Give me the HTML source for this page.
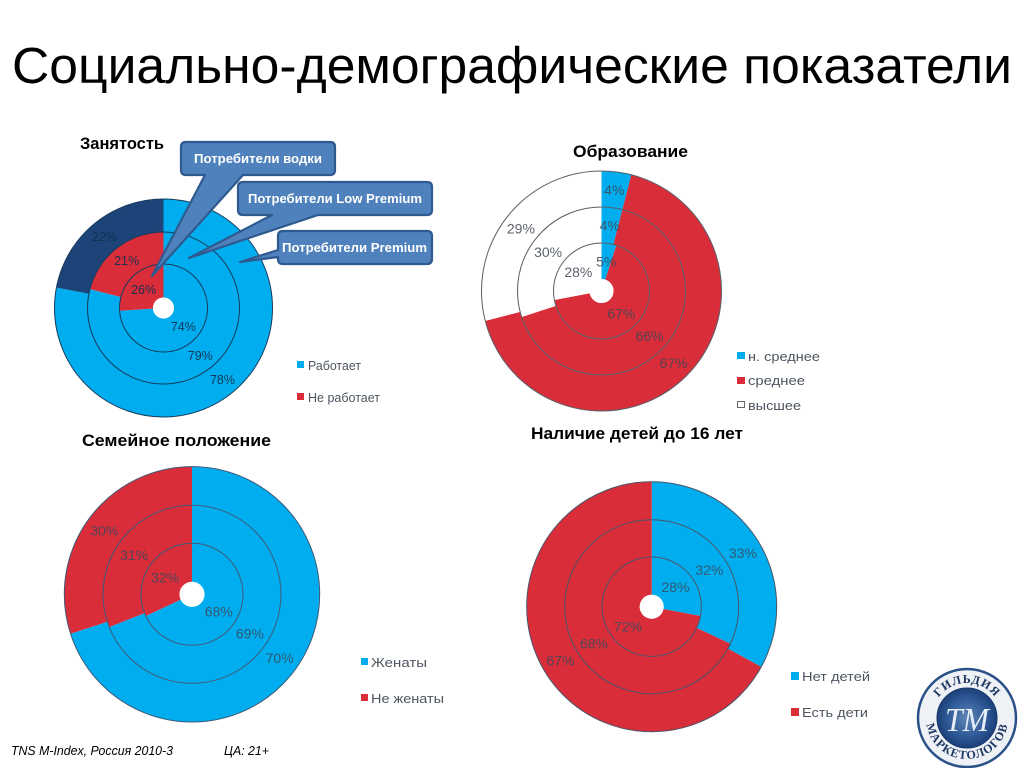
<!DOCTYPE html>
<html lang="ru">
<head>
<meta charset="utf-8">
<title>Социально-демографические показатели</title>
<style>
html,body{margin:0;padding:0;background:#fff;width:1024px;height:768px;overflow:hidden}
svg{display:block}
text{font-family:"Liberation Sans","Noto Sans CJK JP",sans-serif}
.ttl{font-weight:bold;font-size:16.5px;fill:#000}
.leg{font-size:13px;fill:#4d5560}
.call{font-weight:bold;font-size:12.5px;fill:#fff}
.foot{font-style:italic;font-size:13px;fill:#000}
.box{fill:#4f81bd;stroke:#2f5a8f;stroke-width:2.2;stroke-linejoin:round}
</style>
</head>
<body>
<svg id="slide" width="1024" height="768" viewBox="0 0 1024 768" xmlns="http://www.w3.org/2000/svg">
  <rect width="1024" height="768" fill="#fff"/>
  <text x="12" y="83" font-size="51" fill="#000" textLength="1000" lengthAdjust="spacingAndGlyphs">Социально-демографические показатели</text>

  <text class="ttl" x="80" y="149" textLength="84" lengthAdjust="spacingAndGlyphs">Занятость</text>
  <text class="ttl" x="573" y="157" textLength="115" lengthAdjust="spacingAndGlyphs">Образование</text>
  <text class="ttl" x="82" y="446" textLength="189" lengthAdjust="spacingAndGlyphs">Семейное положение</text>
  <text class="ttl" x="531" y="439" textLength="212" lengthAdjust="spacingAndGlyphs">Наличие детей до 16 лет</text>

  <g id="charts"></g>

  <g>
    <rect x="297" y="361" width="7" height="7" fill="#00aeef"/>
    <text class="leg" x="308" y="370" textLength="53" lengthAdjust="spacingAndGlyphs">Работает</text>
    <rect x="297" y="393" width="7" height="7" fill="#d92d3a"/>
    <text class="leg" x="308" y="402" textLength="72" lengthAdjust="spacingAndGlyphs">Не работает</text>
  </g>
  <g>
    <rect x="737" y="352" width="8" height="7" fill="#00aeef"/>
    <text class="leg" x="748" y="361" textLength="72" lengthAdjust="spacingAndGlyphs">н. среднее</text>
    <rect x="737" y="377" width="8" height="7" fill="#d92d3a"/>
    <text class="leg" x="748" y="385" textLength="57" lengthAdjust="spacingAndGlyphs">среднее</text>
    <rect x="737.5" y="401.5" width="7" height="6" fill="#fff" stroke="#666" stroke-width="1"/>
    <text class="leg" x="748" y="410" textLength="53" lengthAdjust="spacingAndGlyphs">высшее</text>
  </g>
  <g>
    <rect x="361" y="658" width="7" height="7" fill="#00aeef"/>
    <text class="leg" x="371" y="667" textLength="56" lengthAdjust="spacingAndGlyphs">Женаты</text>
    <rect x="361" y="694" width="7" height="7" fill="#d92d3a"/>
    <text class="leg" x="371" y="703" textLength="73" lengthAdjust="spacingAndGlyphs">Не женаты</text>
  </g>
  <g>
    <rect x="791" y="672" width="8" height="8" fill="#00aeef"/>
    <text class="leg" x="802" y="681" textLength="68" lengthAdjust="spacingAndGlyphs">Нет детей</text>
    <rect x="791" y="708" width="8" height="8" fill="#d92d3a"/>
    <text class="leg" x="802" y="717" textLength="66" lengthAdjust="spacingAndGlyphs">Есть дети</text>
  </g>

  <g>
    <path class="box" d="M186 142H330Q335 142 335 147V170Q335 175 330 175H243L152 276L205 175H186Q181 175 181 170V147Q181 142 186 142Z"/>
    <text class="call" x="194" y="163" textLength="128" lengthAdjust="spacingAndGlyphs">Потребители водки</text>
  </g>
  <g>
    <path class="box" d="M243 182H427Q432 182 432 187V210Q432 215 427 215H318L189 258L272 215H243Q238 215 238 210V187Q238 182 243 182Z"/>
    <text class="call" x="248" y="203" textLength="174" lengthAdjust="spacingAndGlyphs">Потребители Low Premium</text>
  </g>
  <g>
    <path class="box" d="M283 231H427Q432 231 432 236V259Q432 264 427 264H283Q278 264 278 259V257L240 262L278 250V236Q278 231 283 231Z"/>
    <text class="call" x="282" y="252" textLength="145" lengthAdjust="spacingAndGlyphs">Потребители Premium</text>
  </g>

  <text class="foot" x="11" y="755" textLength="162" lengthAdjust="spacingAndGlyphs">TNS M-Index, Россия 2010-3</text>
  <text class="foot" x="224" y="755" textLength="45" lengthAdjust="spacingAndGlyphs">ЦА: 21+</text>

  <g>
    <defs>
      <radialGradient id="logoGrad" cx="50%" cy="50%" r="55%">
        <stop offset="0%" stop-color="#5f86b8"/>
        <stop offset="60%" stop-color="#2d5896"/>
        <stop offset="100%" stop-color="#17386f"/>
      </radialGradient>
      <path id="logoTopArc" d="M932 718A35 35 0 0 1 1002 718"/>
      <path id="logoBottomArc" d="M926 718A41 41 0 0 0 1008 718"/>
    </defs>
    <circle cx="967" cy="718" r="49" fill="#eef1f5" stroke="#2b5288" stroke-width="2.5"/>
    <circle cx="967" cy="718" r="30" fill="url(#logoGrad)" stroke="#17386f" stroke-width="1"/>
    <text font-size="12" font-weight="bold" fill="#1d3763" letter-spacing="1" style="font-family:'Liberation Serif',serif"><textPath href="#logoTopArc" startOffset="50%" text-anchor="middle">ГИЛЬДИЯ</textPath></text>
    <text font-size="12" font-weight="bold" fill="#1d3763" letter-spacing="1" style="font-family:'Liberation Serif',serif"><textPath href="#logoBottomArc" startOffset="50%" text-anchor="middle">МАРКЕТОЛОГОВ</textPath></text>
    <text x="945" y="731" font-size="34" font-style="italic" fill="#e8eef6" textLength="44" lengthAdjust="spacingAndGlyphs" style="font-family:'Liberation Serif',serif">ТМ</text>
  </g>
</svg>
<script>
var employmentInner = [74, 26];
var employmentMiddle = [79, 21];
var employmentOuter = [78, 22];
var educationInner = [5, 67, 28];
var educationMiddle = [4, 66, 30];
var educationOuter = [4, 67, 29];
var familyInner = [68, 32];
var familyMiddle = [69, 31];
var familyOuter = [70, 30];
var childrenInner = [28, 72];
var childrenMiddle = [32, 68];
var childrenOuter = [33, 67];

var NS = 'http://www.w3.org/2000/svg';
var host = document.getElementById('charts');

function angleScale(values) {
  var total = values.reduce(function (a, b) { return a + b; }, 0);
  return function (v) { return v / total * Math.PI * 2; };
}
function polar(cx, cy, r, a) {
  return [cx + r * Math.sin(a), cy - r * Math.cos(a)];
}
function ringPath(cx, cy, r0, r1, a0, a1) {
  var large = a1 - a0 > Math.PI ? 1 : 0;
  var p0 = polar(cx, cy, r1, a0), p1 = polar(cx, cy, r1, a1);
  var p2 = polar(cx, cy, r0, a1), p3 = polar(cx, cy, r0, a0);
  return 'M' + p0[0] + ' ' + p0[1] + 'A' + r1 + ' ' + r1 + ' 0 ' + large + ' 1 ' + p1[0] + ' ' + p1[1] +
    'L' + p2[0] + ' ' + p2[1] + 'A' + r0 + ' ' + r0 + ' 0 ' + large + ' 0 ' + p3[0] + ' ' + p3[1] + 'Z';
}
function drawRing(group, labels, opt, values, r0, r1, colors, ringName) {
  var scale = angleScale(values);
  var start = 0;
  values.forEach(function (v, i) {
    var end = start + scale(v);
    var slice = document.createElementNS(NS, 'path');
    
    
    slice.setAttribute('d', ringPath(opt.cx, opt.cy, r0, r1, start, end));
    slice.setAttribute('fill', colors[i]);
    group.appendChild(slice);
    var p = polar(opt.cx, opt.cy, (r0 + r1) / 2, (start + end) / 2);
    var t = document.createElementNS(NS, 'text');
    
    
    t.setAttribute('x', p[0]);
    t.setAttribute('y', p[1] + opt.font * 0.36);
    t.setAttribute('text-anchor', 'middle');
    t.setAttribute('font-size', opt.font);
    t.setAttribute('fill', opt.labelColor);
    t.setAttribute('fill-opacity', opt.labelOpacity);
    t.textContent = v + '%';
    labels.push(t);
    start = end;
  });
}
function drawOutline(group, opt, radius) {
  var c = document.createElementNS(NS, 'circle');
  
  
  c.setAttribute('cx', opt.cx);
  c.setAttribute('cy', opt.cy);
  c.setAttribute('r', radius);
  c.setAttribute('fill', 'none');
  c.setAttribute('stroke', opt.stroke);
  c.setAttribute('stroke-width', '1');
  group.appendChild(c);
}
function drawDonut(opt, inner, middle, outer) {
  var g = document.createElementNS(NS, 'g');
  
  
  host.appendChild(g);
  var labels = [];
  drawRing(g, labels, opt, outer, opt.r2, opt.r3, opt.outerColors || opt.colors, 'outer');
  drawRing(g, labels, opt, middle, opt.r1, opt.r2, opt.colors, 'middle');
  drawRing(g, labels, opt, inner, opt.r0, opt.r1, opt.colors, 'inner');
  drawOutline(g, opt, opt.r3);
  drawOutline(g, opt, opt.r2);
  drawOutline(g, opt, opt.r1);
  var hole = document.createElementNS(NS, 'circle');
  
  
  hole.setAttribute('cx', opt.cx);
  hole.setAttribute('cy', opt.cy);
  hole.setAttribute('r', opt.r0);
  hole.setAttribute('fill', '#fff');
  g.appendChild(hole);
  labels.forEach(function (t) { g.appendChild(t); });
}

var BLUE = '#00aeef', RED = '#d92d3a', NAVY = '#1c4479';

drawDonut({name: 'employment', cx: 163.5, cy: 308, r0: 10.5, r1: 44, r2: 76, r3: 109, font: 12.5,
  stroke: '#173a5c', labelColor: '#12304f', labelOpacity: 0.95, colors: [BLUE, RED], outerColors: [BLUE, NAVY]},
  employmentInner, employmentMiddle, employmentOuter);
drawDonut({name: 'education', cx: 601.5, cy: 291, r0: 12, r1: 48, r2: 84, r3: 120, font: 14,
  stroke: '#5a5f68', labelColor: '#3f4652', labelOpacity: 0.85, colors: [BLUE, RED, '#fff']},
  educationInner, educationMiddle, educationOuter);
drawDonut({name: 'family', cx: 192, cy: 594.3, r0: 12.5, r1: 51, r2: 89, r3: 127.7, font: 14,
  stroke: '#3f5a78', labelColor: '#3a4a5c', labelOpacity: 0.85, colors: [BLUE, RED]},
  familyInner, familyMiddle, familyOuter);
drawDonut({name: 'children', cx: 651.7, cy: 606.7, r0: 12, r1: 49.7, r2: 87, r3: 125, font: 14,
  stroke: '#4a5568', labelColor: '#3a4a5c', labelOpacity: 0.85, colors: [BLUE, RED]},
  childrenInner, childrenMiddle, childrenOuter);
</script>
</body>
</html>
